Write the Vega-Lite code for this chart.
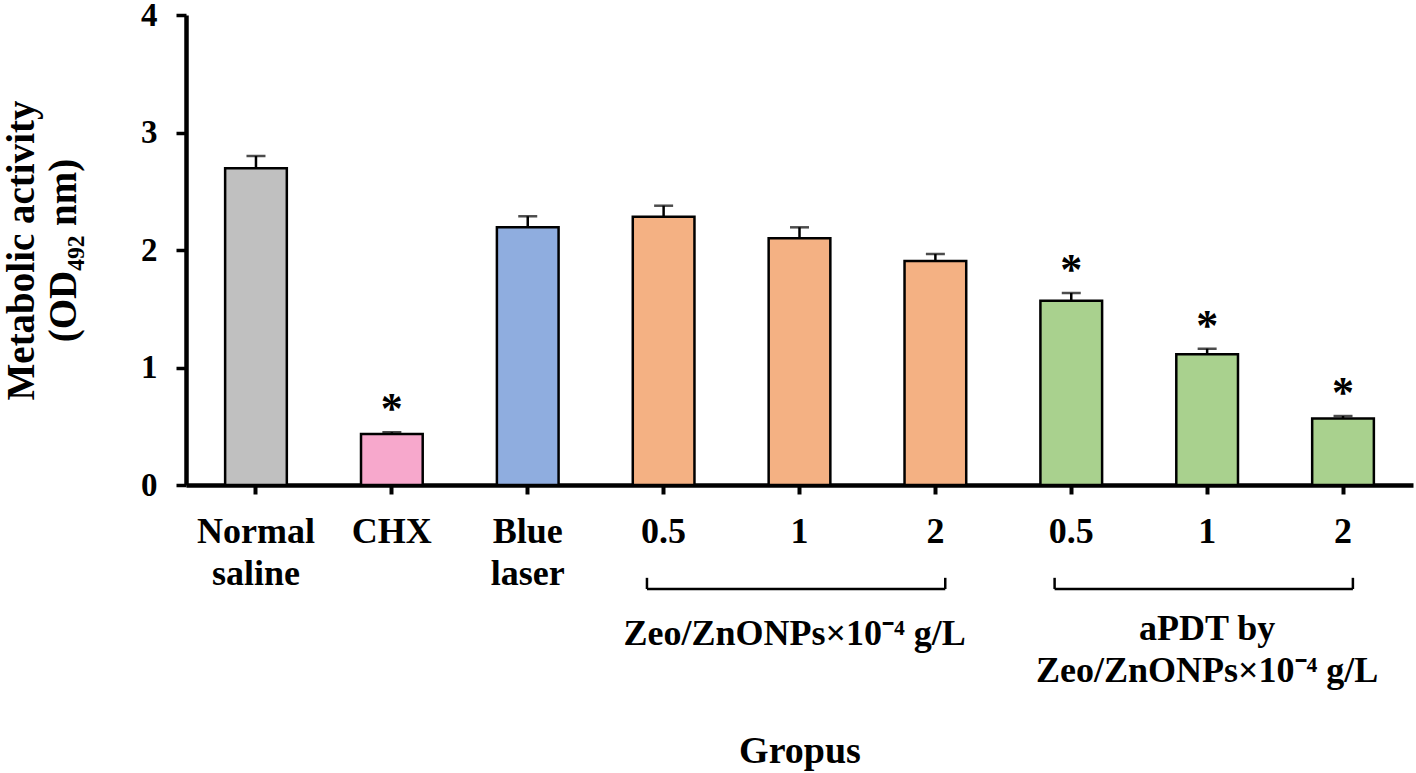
{
  "$schema": "https://vega.github.io/schema/vega-lite/v6.json",
  "width": 1227,
  "height": 470,
  "autosize": {"type": "none"},
  "padding": {"left": 186, "top": 15, "right": 3, "bottom": 288},
  "background": "white",
  "config": {
    "view": {"stroke": null},
    "font": "Liberation Serif",
    "text": {"font": "Liberation Serif", "fontWeight": "bold"}
  },
  "datasets": {
    "bars": [
      {"g": "1|Normal|saline", "grp": "ns", "mean": 2.695, "upper": 2.8, "sig": ""},
      {"g": "2|CHX", "grp": "chx", "mean": 0.434, "upper": 0.449, "sig": "*"},
      {"g": "3|Blue|laser", "grp": "bl", "mean": 2.193, "upper": 2.287, "sig": ""},
      {"g": "4|0.5", "grp": "zeo", "mean": 2.283, "upper": 2.377, "sig": ""},
      {"g": "5|1", "grp": "zeo", "mean": 2.1, "upper": 2.193, "sig": ""},
      {"g": "6|2", "grp": "zeo", "mean": 1.906, "upper": 1.966, "sig": ""},
      {"g": "7|0.5", "grp": "apdt", "mean": 1.569, "upper": 1.634, "sig": "*"},
      {"g": "8|1", "grp": "apdt", "mean": 1.112, "upper": 1.16, "sig": "*"},
      {"g": "9|2", "grp": "apdt", "mean": 0.567, "upper": 0.587, "sig": "*"}
    ],
    "brackets": [
      {"from": "4|0.5", "to": "6|2"},
      {"from": "7|0.5", "to": "9|2"}
    ]
  },
  "layer": [
    {
      "data": {"name": "bars"},
      "mark": {"type": "bar", "stroke": "black", "strokeWidth": 2.5},
      "encoding": {
        "x": {
          "field": "g", "type": "nominal",
          "scale": {"domain": ["1|Normal|saline", "2|CHX", "3|Blue|laser", "4|0.5", "5|1", "6|2", "7|0.5", "8|1", "9|2"], "paddingInner": 0.546, "paddingOuter": 0.288},
          "axis": {
            "title": "Gropus",
            "titleFont": "Liberation Serif", "titleFontWeight": "bold", "titleFontSize": 38, "titleColor": "black",
            "titleY": 277, "titleBaseline": "alphabetic",
            "labelExpr": "slice(split(datum.value, '|'), 1)",
            "labelAngle": 0, "labelFont": "Liberation Serif", "labelFontWeight": "bold", "labelFontSize": 36, "labelColor": "black",
            "labelLineHeight": 42, "labelPadding": 20, "labelBaseline": "top",
            "domainColor": "black", "domainWidth": 4.5,
            "tickColor": "black", "tickWidth": 4, "tickSize": 9
          }
        },
        "y": {
          "field": "mean", "type": "quantitative",
          "scale": {"domain": [0, 4], "nice": false},
          "axis": {
            "title": ["Metabolic activity", "(OD₄₉₂ nm)"],
            "titleFont": "Liberation Serif", "titleFontWeight": "bold", "titleFontSize": 39, "titleColor": "black",
            "titleLineHeight": 42, "titleAngle": -90, "titleX": -165, "titleY": 235, "titleBaseline": "middle", "titleAlign": "center",
            "values": [0, 1, 2, 3, 4], "format": "d", "grid": false,
            "labelFont": "Liberation Serif", "labelFontWeight": "bold", "labelFontSize": 33, "labelColor": "black", "labelPadding": 19,
            "domainColor": "black", "domainWidth": 4.5,
            "tickColor": "black", "tickWidth": 3.5, "tickSize": 10
          }
        },
        "color": {
          "field": "grp", "type": "nominal",
          "scale": {"domain": ["ns", "chx", "bl", "zeo", "apdt"], "range": ["#c0c0c0", "#f7a8cc", "#8faddf", "#f4b183", "#a9d18e"]},
          "legend": null
        }
      }
    },
    {
      "data": {"name": "bars"},
      "mark": {"type": "rule", "color": "black", "strokeWidth": 2.5},
      "encoding": {
        "x": {"field": "g", "type": "nominal"},
        "y": {"field": "mean", "type": "quantitative"},
        "y2": {"field": "upper"}
      }
    },
    {
      "data": {"name": "bars"},
      "mark": {"type": "tick", "color": "black", "thickness": 2.5, "size": 19, "orient": "horizontal"},
      "encoding": {
        "x": {"field": "g", "type": "nominal"},
        "y": {"field": "upper", "type": "quantitative"}
      }
    },
    {
      "data": {"name": "bars"},
      "mark": {"type": "text", "fontSize": 44, "fontWeight": "bold", "color": "black", "baseline": "alphabetic", "dy": -9},
      "encoding": {
        "x": {"field": "g", "type": "nominal"},
        "y": {"field": "upper", "type": "quantitative"},
        "text": {"field": "sig"}
      }
    },
    {
      "data": {"name": "brackets"},
      "mark": {"type": "rule", "color": "black", "strokeWidth": 2.5},
      "encoding": {
        "x": {"field": "from", "type": "nominal", "bandPosition": 0.23},
        "x2": {"field": "to", "bandPosition": 0.66},
        "y": {"datum": -0.885, "type": "quantitative"}
      }
    },
    {
      "data": {"name": "brackets"},
      "mark": {"type": "rule", "color": "black", "strokeWidth": 2.5},
      "encoding": {
        "x": {"field": "from", "type": "nominal", "bandPosition": 0.23},
        "y": {"datum": -0.79, "type": "quantitative"},
        "y2": {"datum": -0.885}
      }
    },
    {
      "data": {"name": "brackets"},
      "mark": {"type": "rule", "color": "black", "strokeWidth": 2.5},
      "encoding": {
        "x": {"field": "to", "type": "nominal", "bandPosition": 0.66},
        "y": {"datum": -0.79, "type": "quantitative"},
        "y2": {"datum": -0.885}
      }
    },
    {
      "data": {"values": [{"label": "Zeo/ZnONPs×10⁻⁴ g/L", "at": "5|1"}]},
      "mark": {"type": "text", "fontSize": 36, "fontWeight": "bold", "color": "black", "baseline": "alphabetic", "align": "center"},
      "encoding": {
        "x": {"field": "at", "type": "nominal", "bandPosition": 0.42},
        "y": {"datum": -1.362, "type": "quantitative"},
        "text": {"field": "label"}
      }
    },
    {
      "data": {"values": [{"label": "aPDT by\nZeo/ZnONPs×10⁻⁴ g/L", "at": "8|1"}]},
      "mark": {"type": "text", "fontSize": 36, "fontWeight": "bold", "color": "black", "baseline": "alphabetic", "align": "center", "lineBreak": "\n", "lineHeight": 42},
      "encoding": {
        "x": {"field": "at", "type": "nominal", "bandPosition": 0.5},
        "y": {"datum": -1.319, "type": "quantitative"},
        "text": {"field": "label"}
      }
    }
  ]
}
